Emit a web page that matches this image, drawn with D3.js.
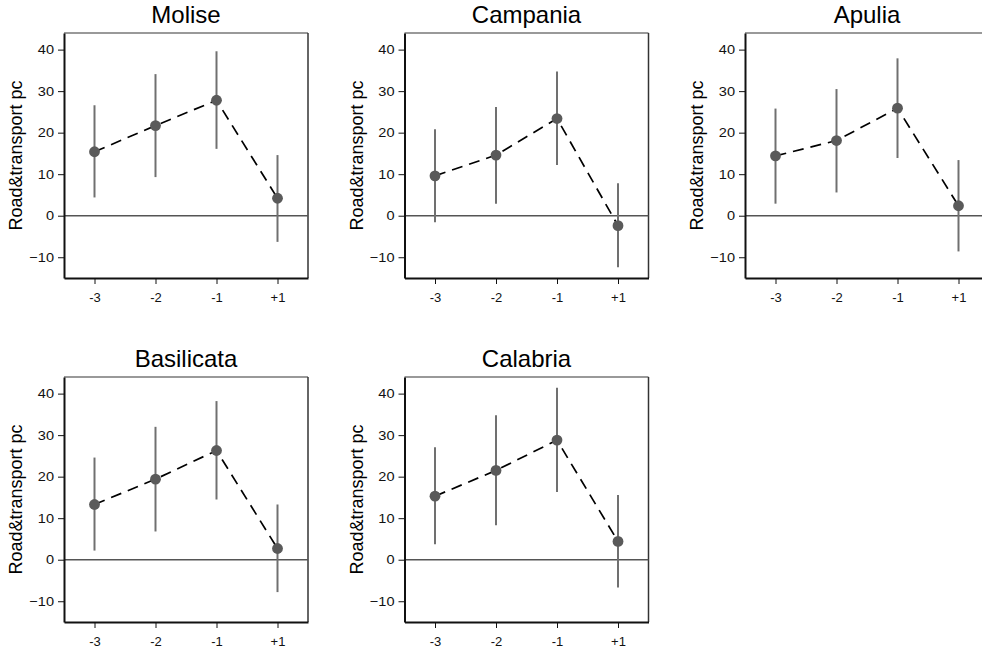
<!DOCTYPE html>
<html>
<head>
<meta charset="utf-8">
<script src="https://cdn.jsdelivr.net/npm/d3@7"></script>
<style>
  html, body { margin: 0; padding: 0; background: #fff; }
  svg { display: block; font-family: "Liberation Sans", Arial, sans-serif; }
</style>
</head>
<body>
<svg id="chart" width="982" height="653"></svg>
<script>
// ---- data ----
const regions = ["Molise", "Campania", "Apulia", "Basilicata", "Calabria"];
const periods = ["-3", "-2", "-1", "+1"];
const yTicks = [-10, 0, 10, 20, 30, 40];
const yLabel = "Road&transport pc";

const estMolise     = [15.4, 21.7, 27.8, 4.2];
const lowMolise     = [4.4, 9.3, 16.1, -6.3];
const highMolise    = [26.6, 34.1, 39.6, 14.6];

const estCampania   = [9.6, 14.6, 23.4, -2.4];
const lowCampania   = [-1.6, 2.9, 12.2, -12.4];
const highCampania  = [20.8, 26.2, 34.7, 7.8];

const estApulia     = [14.4, 18.1, 25.9, 2.4];
const lowApulia     = [2.9, 5.6, 13.9, -8.6];
const highApulia    = [25.8, 30.5, 37.9, 13.4];

const estBasilicata  = [13.3, 19.4, 26.3, 2.7];
const lowBasilicata  = [2.2, 6.8, 14.5, -7.8];
const highBasilicata = [24.6, 32.0, 38.2, 13.3];

const estCalabria   = [15.3, 21.5, 28.8, 4.4];
const lowCalabria   = [3.7, 8.3, 16.3, -6.7];
const highCalabria  = [27.1, 34.8, 41.4, 15.6];

const panels = [
  { name: regions[0], est: estMolise, low: lowMolise, high: highMolise },
  { name: regions[1], est: estCampania, low: lowCampania, high: highCampania },
  { name: regions[2], est: estApulia, low: lowApulia, high: highApulia },
  { name: regions[3], est: estBasilicata, low: lowBasilicata, high: highBasilicata },
  { name: regions[4], est: estCalabria, low: lowCalabria, high: highCalabria }
];

// ---- layout ----
const svg = d3.select("#chart");
const pw = 244, ph = 245;
const colX = [64, 404.5, 745];
const rowY = [33, 377];

const x = d3.scaleLinear().domain([0.5, periods.length + 0.5]).range([0, pw]);
const y = d3.scaleLinear().domain([-15, 44]).range([ph, 0]);

panels.forEach((p, i) => {
  const col = i % 3, row = Math.floor(i / 3);
  const g = svg.append("g").attr("transform", `translate(${colX[col]},${rowY[row]})`);

  // frame: top & right
  g.append("line").attr("x1", 0).attr("x2", pw).attr("y1", 0).attr("y2", 0)
    .attr("stroke", "#777").attr("stroke-width", 1.5);
  g.append("line").attr("x1", pw).attr("x2", pw).attr("y1", 0).attr("y2", ph)
    .attr("stroke", "#333").attr("stroke-width", 1.5);

  // zero line
  g.append("line").attr("x1", 0).attr("x2", pw).attr("y1", y(0)).attr("y2", y(0))
    .attr("stroke", "#555").attr("stroke-width", 1.5);

  // y axis
  const ya = g.append("g").call(d3.axisLeft(y).tickValues(yTicks)
    .tickSize(6).tickSizeOuter(0).tickPadding(4));
  ya.select(".domain").attr("stroke", "#111").attr("stroke-width", 2);
  ya.selectAll(".tick line").attr("stroke", "#111");
  ya.selectAll(".tick text").attr("fill", "#111").style("font-size", "13px")
    .style("font-family", "'Liberation Sans', Arial, sans-serif")
    .attr("x", 0).attr("transform", "translate(-10,0) scale(1.12,1)");

  // x axis
  const xa = g.append("g").attr("transform", `translate(0,${ph})`)
    .call(d3.axisBottom(x).tickValues(d3.range(1, periods.length + 1))
      .tickFormat(d => periods[d - 1]).tickSize(6).tickSizeOuter(0).tickPadding(9));
  xa.select(".domain").attr("stroke", "#111").attr("stroke-width", 2);
  xa.selectAll(".tick line").attr("stroke", "#111");
  xa.selectAll(".tick text").attr("fill", "#111").style("font-size", "13px")
    .style("font-family", "'Liberation Sans', Arial, sans-serif");

  // error bars
  g.selectAll(".ci").data(periods).enter().append("line")
    .attr("x1", (d, j) => x(j + 1)).attr("x2", (d, j) => x(j + 1))
    .attr("y1", (d, j) => y(p.low[j])).attr("y2", (d, j) => y(p.high[j]))
    .attr("stroke", "#707070").attr("stroke-width", 2);

  // dashed connecting line
  const line = d3.line().x((d, j) => x(j + 1)).y(d => y(d));
  g.append("path").datum(p.est).attr("d", line)
    .attr("fill", "none").attr("stroke", "#000").attr("stroke-width", 1.7)
    .attr("stroke-dasharray", "11,7");

  // points
  g.selectAll(".pt").data(p.est).enter().append("circle")
    .attr("cx", (d, j) => x(j + 1)).attr("cy", d => y(d)).attr("r", 5.4)
    .attr("fill", "#5a5a5a");

  // title
  g.append("text").attr("x", pw / 2).attr("y", -10).attr("text-anchor", "middle")
    .style("font-size", "24px").attr("fill", "#000").text(p.name);

  // y label
  g.append("text").attr("transform", `translate(-42,${ph / 2}) rotate(-90)`)
    .attr("text-anchor", "middle").style("font-size", "18px").attr("fill", "#000")
    .text(yLabel);
});
</script>
</body>
</html>
